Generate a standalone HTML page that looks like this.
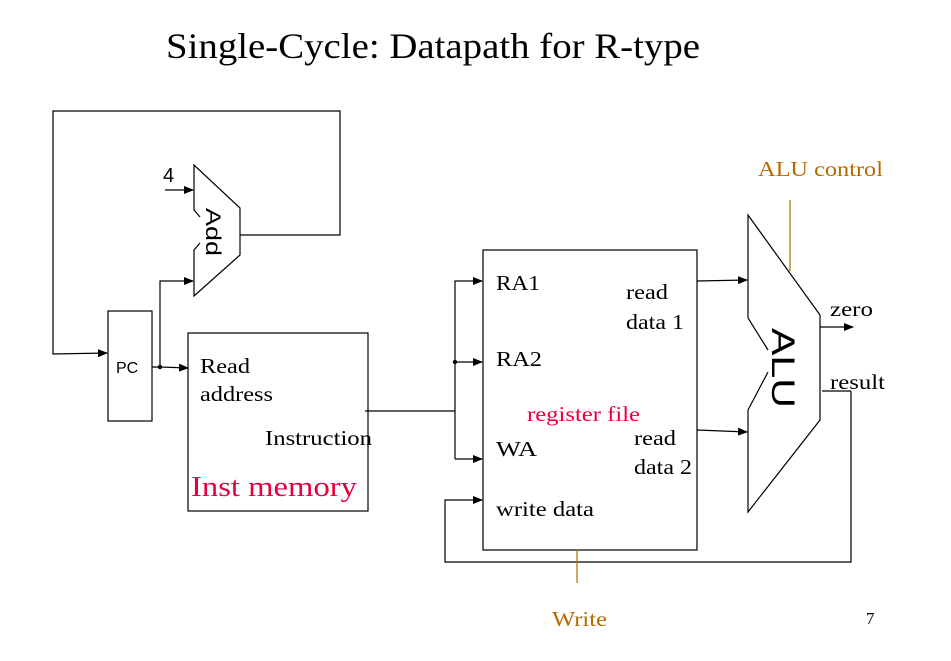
<!DOCTYPE html>
<html><head><meta charset="utf-8"><style>
html,body{margin:0;padding:0;background:#fff;}
svg{display:block;}
.t{font-family:"Liberation Serif",serif;}
.s{font-family:"Liberation Sans",sans-serif;}
</style></head><body>
<svg width="951" height="661" viewBox="0 0 951 661" xmlns="http://www.w3.org/2000/svg">
<defs><marker id="a" markerWidth="10" markerHeight="8" refX="9" refY="4" orient="auto" markerUnits="userSpaceOnUse"><path d="M0,0 L10,4 L0,8 z" fill="#000"/></marker></defs>
<text x="166" y="58" class="t" font-size="36" textLength="534" lengthAdjust="spacingAndGlyphs">Single-Cycle:  Datapath for R-type</text>
<g fill="none" stroke="#000" stroke-width="1.2">
<polyline points="240,235 340,235 340,111 53,111 53,354 107,353" marker-end="url(#a)"/>
<polyline points="200,217 194,210 194,165 240,208 240,255 194,296 194,250 200,243"/>
<line x1="165" y1="190" x2="193" y2="190" marker-end="url(#a)"/>
<rect x="108" y="311" width="44" height="110"/>
<polyline points="152,367 160,367 188,368" marker-end="url(#a)"/>
<polyline points="160,367 160,281 193,281" marker-end="url(#a)"/>
<rect x="188" y="333" width="180" height="178"/>
<line x1="365" y1="411" x2="455" y2="411"/>
<polyline points="455,459 455,281 482,281" marker-end="url(#a)"/>
<line x1="455" y1="362" x2="482" y2="362" marker-end="url(#a)"/>
<line x1="455" y1="459" x2="482" y2="459" marker-end="url(#a)"/>
<rect x="483" y="250" width="214" height="300"/>
<polyline points="851,391 851,562 445,562 445,500 482,500" marker-end="url(#a)"/>
<line x1="697" y1="281" x2="747" y2="280" marker-end="url(#a)"/>
<line x1="697" y1="430" x2="747" y2="432" marker-end="url(#a)"/>
<polyline points="768,350 748,318 748,215 820,315 820,420 748,512 748,410 768,372"/>
<line x1="820" y1="327" x2="853" y2="327" marker-end="url(#a)"/>
<line x1="822" y1="391" x2="851" y2="391"/>
</g>
<circle cx="160" cy="367" r="2.2"/>
<circle cx="455" cy="362" r="2.2"/>
<line x1="790" y1="200" x2="790" y2="271" stroke="#b36b00" stroke-width="1.2"/>
<line x1="577" y1="550" x2="577" y2="583" stroke="#b36b00" stroke-width="1.2"/>
<text x="163" y="182" class="s" font-size="20">4</text>
<text transform="translate(206,208) rotate(90)" class="s" font-size="21" textLength="48" lengthAdjust="spacingAndGlyphs">Add</text>
<text x="116" y="373" class="s" font-size="16">PC</text>
<text x="200" y="373" class="t" font-size="21" textLength="50" lengthAdjust="spacingAndGlyphs">Read</text>
<text x="200" y="401" class="t" font-size="21" textLength="73" lengthAdjust="spacingAndGlyphs">address</text>
<text x="265" y="445" class="t" font-size="21" textLength="107" lengthAdjust="spacingAndGlyphs">Instruction</text>
<text x="191" y="496" class="t" font-size="29" fill="#e8003c" textLength="166" lengthAdjust="spacingAndGlyphs">Inst memory</text>
<text x="496" y="290" class="t" font-size="21" textLength="44" lengthAdjust="spacingAndGlyphs">RA1</text>
<text x="496" y="366" class="t" font-size="21" textLength="46" lengthAdjust="spacingAndGlyphs">RA2</text>
<text x="496" y="456" class="t" font-size="21" textLength="41" lengthAdjust="spacingAndGlyphs">WA</text>
<text x="496" y="516" class="t" font-size="21" textLength="98" lengthAdjust="spacingAndGlyphs">write data</text>
<text x="626" y="299" class="t" font-size="21" textLength="42" lengthAdjust="spacingAndGlyphs">read</text>
<text x="626" y="329" class="t" font-size="21" textLength="58" lengthAdjust="spacingAndGlyphs">data 1</text>
<text x="634" y="445" class="t" font-size="21" textLength="42" lengthAdjust="spacingAndGlyphs">read</text>
<text x="634" y="474" class="t" font-size="21" textLength="58" lengthAdjust="spacingAndGlyphs">data 2</text>
<text x="527" y="421" class="t" font-size="21" fill="#e8003c" textLength="113" lengthAdjust="spacingAndGlyphs">register file</text>
<text transform="translate(772,328) rotate(90)" class="s" font-size="32" textLength="80" lengthAdjust="spacingAndGlyphs">ALU</text>
<text x="758" y="176" class="t" font-size="21" fill="#b36b00" textLength="125" lengthAdjust="spacingAndGlyphs">ALU control</text>
<text x="830" y="316" class="t" font-size="21" textLength="43" lengthAdjust="spacingAndGlyphs">zero</text>
<text x="830" y="389" class="t" font-size="21" textLength="55" lengthAdjust="spacingAndGlyphs">result</text>
<text x="552" y="626" class="t" font-size="21" fill="#b36b00" textLength="55" lengthAdjust="spacingAndGlyphs">Write</text>
<text x="866" y="624" class="t" font-size="17">7</text>
</svg>
</body></html>
